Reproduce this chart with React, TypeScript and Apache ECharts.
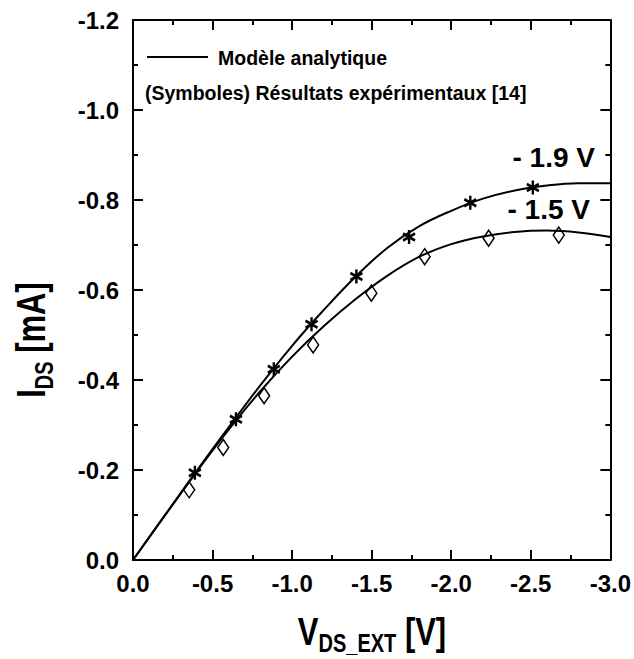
import React, { useEffect, useRef } from "react";
import * as echarts from "echarts";

// Model curves (analytic model), V_DS_EXT in V, I_DS in mA
const vModel = [0, -0.2, -0.4, -0.6, -0.8, -1.0, -1.2, -1.4, -1.6, -1.8, -2.0, -2.2, -2.4, -2.6, -2.8, -3.0];
const idsModel19 = [0, -0.099, -0.198, -0.294, -0.388, -0.476, -0.556, -0.630, -0.694, -0.742, -0.776, -0.803, -0.821, -0.832, -0.837, -0.837];
const idsModel15 = [0, -0.099, -0.196, -0.289, -0.375, -0.452, -0.520, -0.580, -0.632, -0.674, -0.702, -0.719, -0.729, -0.732, -0.728, -0.718];

// Experimental results [14]
const vExp19 = [-0.389, -0.647, -0.885, -1.122, -1.404, -1.735, -2.120, -2.513];
const idsExp19 = [-0.194, -0.313, -0.424, -0.524, -0.630, -0.718, -0.794, -0.828];
const vExp15 = [-0.353, -0.567, -0.824, -1.132, -1.498, -1.833, -2.235, -2.676];
const idsExp15 = [-0.156, -0.250, -0.365, -0.478, -0.593, -0.674, -0.715, -0.722];

const legendModel = "Modèle analytique";
const legendExp = "(Symboles) Résultats expérimentaux [14]";
const curveLabels = ["- 1.9 V", "- 1.5 V"];

const FONT = '"Liberation Sans", Arial, sans-serif';
const STAR = "path://M0,-1 L0,1 M-0.866,-0.5 L0.866,0.5 M-0.866,0.5 L0.866,-0.5";

const zip = (xs: number[], ys: number[]) => xs.map((x, i) => [x, ys[i]]);

export default function App() {
  const ref = useRef<HTMLDivElement>(null);
  useEffect(() => {
    if (!ref.current) return;
    const chart = echarts.init(ref.current, null, { renderer: "svg" });
    const axisCommon = {
      type: "value" as const,
      inverse: true,
      splitLine: { show: false },
      axisLine: { show: true, onZero: false, lineStyle: { color: "#000", width: 2 } },
      axisTick: { show: true, inside: true, length: 10, lineStyle: { color: "#000", width: 2 } },
      minorTick: { show: true, splitNumber: 2, length: 5, lineStyle: { color: "#000", width: 2 } },
      minorSplitLine: { show: false },
    };
    const labelStyle = {
      color: "#000",
      fontFamily: FONT,
      fontWeight: "bold" as const,
      fontSize: 24,
      formatter: (v: number) => v.toFixed(1),
    };
    const titleRich = {
      a: { fontFamily: FONT, fontWeight: "bold", fontSize: 31, lineHeight: 40, verticalAlign: "middle", fill: "#000" },
      b: { fontFamily: FONT, fontWeight: "bold", fontSize: 20, lineHeight: 22, verticalAlign: "bottom", fill: "#000" },
    };
    chart.setOption({
      animation: false,
      backgroundColor: "#fff",
      grid: { left: 133, right: 23, top: 20, bottom: 99 },
      xAxis: [
        { ...axisCommon, min: -3, max: 0, interval: 0.5, position: "bottom", axisLabel: { ...labelStyle, margin: 11 } },
        { ...axisCommon, min: -3, max: 0, interval: 0.5, position: "top", axisLabel: { show: false } },
      ],
      yAxis: [
        { ...axisCommon, min: -1.2, max: 0, interval: 0.2, position: "left", axisLabel: { ...labelStyle, margin: 14 } },
        { ...axisCommon, min: -1.2, max: 0, interval: 0.2, position: "right", axisLabel: { show: false } },
      ],
      series: [
        {
          name: "-1.9 V model",
          type: "line",
          data: zip(vModel, idsModel19),
          smooth: 0.4,
          showSymbol: false,
          lineStyle: { color: "#000", width: 2 },
        },
        {
          name: "-1.5 V model",
          type: "line",
          data: zip(vModel, idsModel15),
          smooth: 0.4,
          showSymbol: false,
          lineStyle: { color: "#000", width: 2 },
        },
        {
          name: "-1.9 V exp",
          type: "scatter",
          data: zip(vExp19, idsExp19),
          symbol: STAR,
          symbolSize: [12, 14],
          itemStyle: { color: "#000", borderColor: "#000", borderWidth: 2.6, opacity: 1 },
          z: 5,
        },
        {
          name: "-1.5 V exp",
          type: "scatter",
          data: zip(vExp15, idsExp15),
          symbol: "diamond",
          symbolSize: [11, 16],
          itemStyle: { color: "transparent", borderColor: "#000", borderWidth: 1.5, opacity: 1 },
          z: 5,
        },
      ],
      graphic: [
        { type: "line", shape: { x1: 147, y1: 57, x2: 208, y2: 57 }, style: { stroke: "#000", lineWidth: 2 } },
        {
          type: "text", x: 218, y: 58,
          style: { text: legendModel, fill: "#000", fontFamily: FONT, fontWeight: "bold", fontSize: 19.5, align: "left", verticalAlign: "middle" },
        },
        {
          type: "text", x: 145, y: 93,
          style: { text: legendExp, fill: "#000", fontFamily: FONT, fontWeight: "bold", fontSize: 19.5, align: "left", verticalAlign: "middle" },
        },
        {
          type: "text", x: 595, y: 157,
          style: { text: curveLabels[0], fill: "#000", fontFamily: FONT, fontWeight: "bold", fontSize: 28, align: "right", verticalAlign: "middle" },
        },
        {
          type: "text", x: 590, y: 209,
          style: { text: curveLabels[1], fill: "#000", fontFamily: FONT, fontWeight: "bold", fontSize: 28, align: "right", verticalAlign: "middle" },
        },
        {
          type: "text", x: 372, y: 631, scaleY: 1.25,
          style: {
            text: "{a|V}{b|DS_EXT}{a| [V]}",
            align: "center", verticalAlign: "middle", fill: "#000",
            rich: titleRich,
          },
        },
        {
          type: "text", x: 31, y: 340, scaleY: 1.3, rotation: Math.PI / 2,
          style: {
            text: "{a|I}{b|DS}{a| [mA]}",
            align: "center", verticalAlign: "middle", fill: "#000",
            rich: titleRich,
          },
        },
      ],
    });
    return () => chart.dispose();
  }, []);
  return (
    <div
      ref={ref}
      style={{ position: "fixed", left: 0, top: 0, width: 634, height: 659, background: "#fff" }}
    />
  );
}
